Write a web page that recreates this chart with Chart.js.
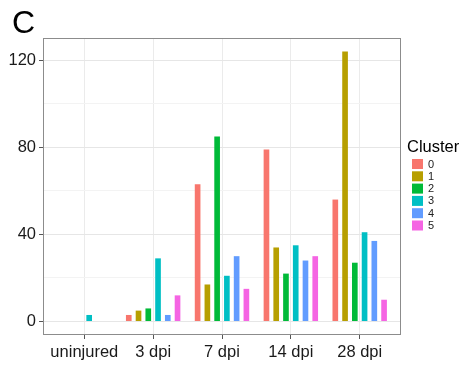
<!DOCTYPE html>
<html>
<head>
<meta charset="utf-8">
<script src="https://cdn.jsdelivr.net/npm/chart.js@4"></script>
<style>
  html, body { margin: 0; padding: 0; background: #fff; }
  #wrap { width: 471px; height: 369px; }
</style>
</head>
<body>
<div id="wrap"><canvas id="clusterChart" width="471" height="369"></canvas></div>
<script>
const categories = ['uninjured', '3 dpi', '7 dpi', '14 dpi', '28 dpi'];
const clusters = ['0', '1', '2', '3', '4', '5'];
const colors = ['#F8766D', '#B79F00', '#00BA38', '#00BFC4', '#619CFF', '#F564E3'];

// cell counts per cluster, one value per timepoint
const cluster0 = [null, 3, 63, 79, 56];
const cluster1 = [null, 5, 17, 34, 124];
const cluster2 = [null, 6, 85, 22, 27];
const cluster3 = [3, 29, 21, 35, 41];
const cluster4 = [null, 3, 30, 28, 37];
const cluster5 = [null, 12, 15, 30, 10];
const yTicks = [0, 20, 40, 60, 80, 100, 120];

const series = [cluster0, cluster1, cluster2, cluster3, cluster4, cluster5];
const font = "Arial, 'Liberation Sans', sans-serif";

const datasets = series.map((vals, i) => ({
  label: clusters[i],
  data: vals.map((v, j) => ({ x: j + 1, y: v })),
  backgroundColor: colors[i],
  borderWidth: 0,
  categoryPercentage: 0.85,
  barPercentage: 0.58
}));

// panel border, panel label, legend
const extras = {
  id: 'extras',
  afterDraw(chart) {
    const { ctx, chartArea: a } = chart;
    ctx.save();
    ctx.strokeStyle = '#8c8c8c';
    ctx.lineWidth = 1;
    ctx.strokeRect(a.left + 0.5, a.top + 0.5, a.right - a.left - 1, a.bottom - a.top - 1);

    ctx.fillStyle = '#000';
    ctx.font = '32px ' + font;
    ctx.textBaseline = 'alphabetic';
    ctx.fillText('C', 12, 33);

    ctx.font = '16.5px ' + font;
    ctx.fillText('Cluster', 407, 152);
    ctx.font = '11px ' + font;
    ctx.textBaseline = 'middle';
    chart.data.datasets.forEach((ds, i) => {
      const y = 159 + i * 12.3;
      ctx.fillStyle = ds.backgroundColor;
      ctx.fillRect(412, y, 11, 10);
      ctx.fillStyle = '#222';
      ctx.fillText(ds.label, 428, y + 5.5);
    });
    ctx.restore();
  }
};

new Chart(document.getElementById('clusterChart'), {
  type: 'bar',
  data: { datasets },
  plugins: [extras],
  options: {
    responsive: false,
    animation: false,
    layout: { padding: { top: 38, right: 70, left: 0, bottom: 0 } },
    plugins: { legend: { display: false }, tooltip: { enabled: false } },
    scales: {
      x: {
        type: 'linear',
        min: 0.4,
        max: 5.6,
        offset: false,
        afterBuildTicks: s => { s.ticks = categories.map((c, i) => ({ value: i + 1 })); },
        afterFit: s => { s.height = 34; },
        border: { display: false },
        grid: { offset: false, color: '#ebebeb', lineWidth: 1, tickLength: 4, tickColor: '#555' },
        ticks: {
          callback: v => categories[v - 1],
          color: '#1a1a1a',
          font: { family: font, size: 16.5 },
          padding: 4,
          maxRotation: 0
        }
      },
      y: {
        min: -6.2,
        max: 130.2,
        afterBuildTicks: s => { s.ticks = yTicks.map(v => ({ value: v })); },
        afterFit: s => { s.width = 43; },
        border: { display: false },
        grid: {
          color: c => c.tick && c.tick.value % 40 === 0 ? '#e6e6e6' : '#f3f3f3',
          lineWidth: 1,
          tickLength: 4,
          tickColor: c => c.tick && c.tick.value % 40 === 0 ? '#555' : 'rgba(0,0,0,0)'
        },
        ticks: {
          callback: v => v % 40 === 0 ? v : '',
          color: '#1a1a1a',
          font: { family: font, size: 16.5 },
          padding: 3
        }
      }
    }
  }
});
</script>
</body>
</html>
